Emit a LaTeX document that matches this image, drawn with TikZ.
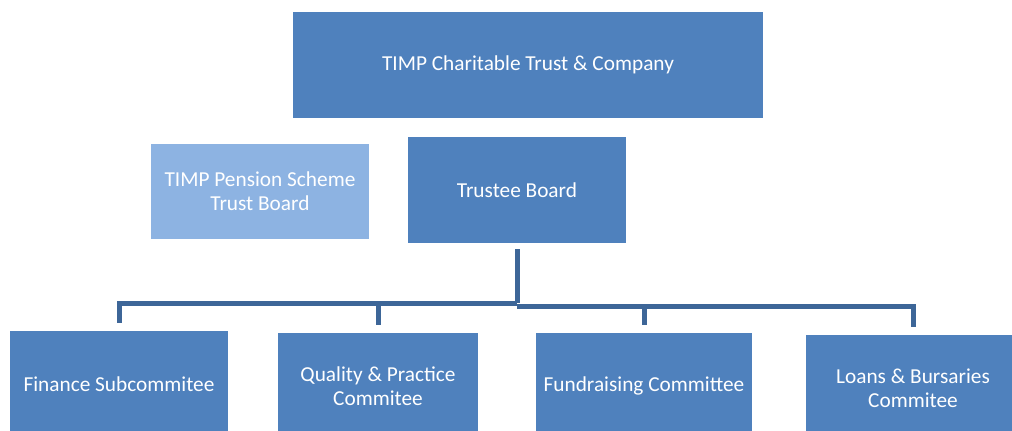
\documentclass[tikz,border=0pt]{standalone}
\usepackage{fontspec}
\setmainfont{Carlito}
\usepackage{tikz}
\definecolor{boxblue}{HTML}{4F81BD}
\definecolor{paleblue}{HTML}{8DB3E2}
\definecolor{linkblue}{HTML}{3D6698}
\tikzset{
    %Define style for boxes
    orgbox/.style={
           rectangle,
           fill=boxblue,
           text=white,
           inner sep=0pt,
           minimum width=218pt,
           minimum height=106pt,
           align=center,
           font=\fontsize{21.3}{24}\selectfont},
    sidebox/.style={
           orgbox,
           fill=paleblue,
           minimum height=95pt},
    % Define connector style
    link/.style={
           draw=linkblue,
           line width=5pt,
           shorten >=8pt}
}

\begin{document}
\begin{tikzpicture}[x=1pt,y=-1pt]
\useasboundingbox (0,0) rectangle (1012,431);
 %nodes
\node[orgbox, minimum width=470pt](company) at (528,65){TIMP Charitable Trust \& Company};
\node[sidebox](pension) at (260,191.5){TIMP Pension Scheme\\Trust Board};
\node[orgbox](trustee) at (517,190){Trustee Board};
\node[orgbox](finance) at (119,384){Finance Subcommitee};
\node[orgbox, minimum width=200pt](quality) at (378,386){Quality \& Practice\\Commitee};
\node[orgbox, minimum width=216pt](fundraising) at (644,386){Fundraising Committee};
\node[orgbox, minimum width=214pt](loans) at (913,388){Loans \& Bursaries\\Commitee};
 %connectors
\coordinate (busleft) at (517,303);
\coordinate (busright) at (517,306);
\draw[link, shorten >=0pt, shorten <=6pt] (trustee.south) -- (busleft);
\draw[link] (busleft) -| (finance.north);
\draw[link] (busleft) -| (quality.north);
\draw[link] (busright) -| (fundraising.north);
\draw[link] (busright) -| (loans.north);
\end{tikzpicture}
\end{document}
